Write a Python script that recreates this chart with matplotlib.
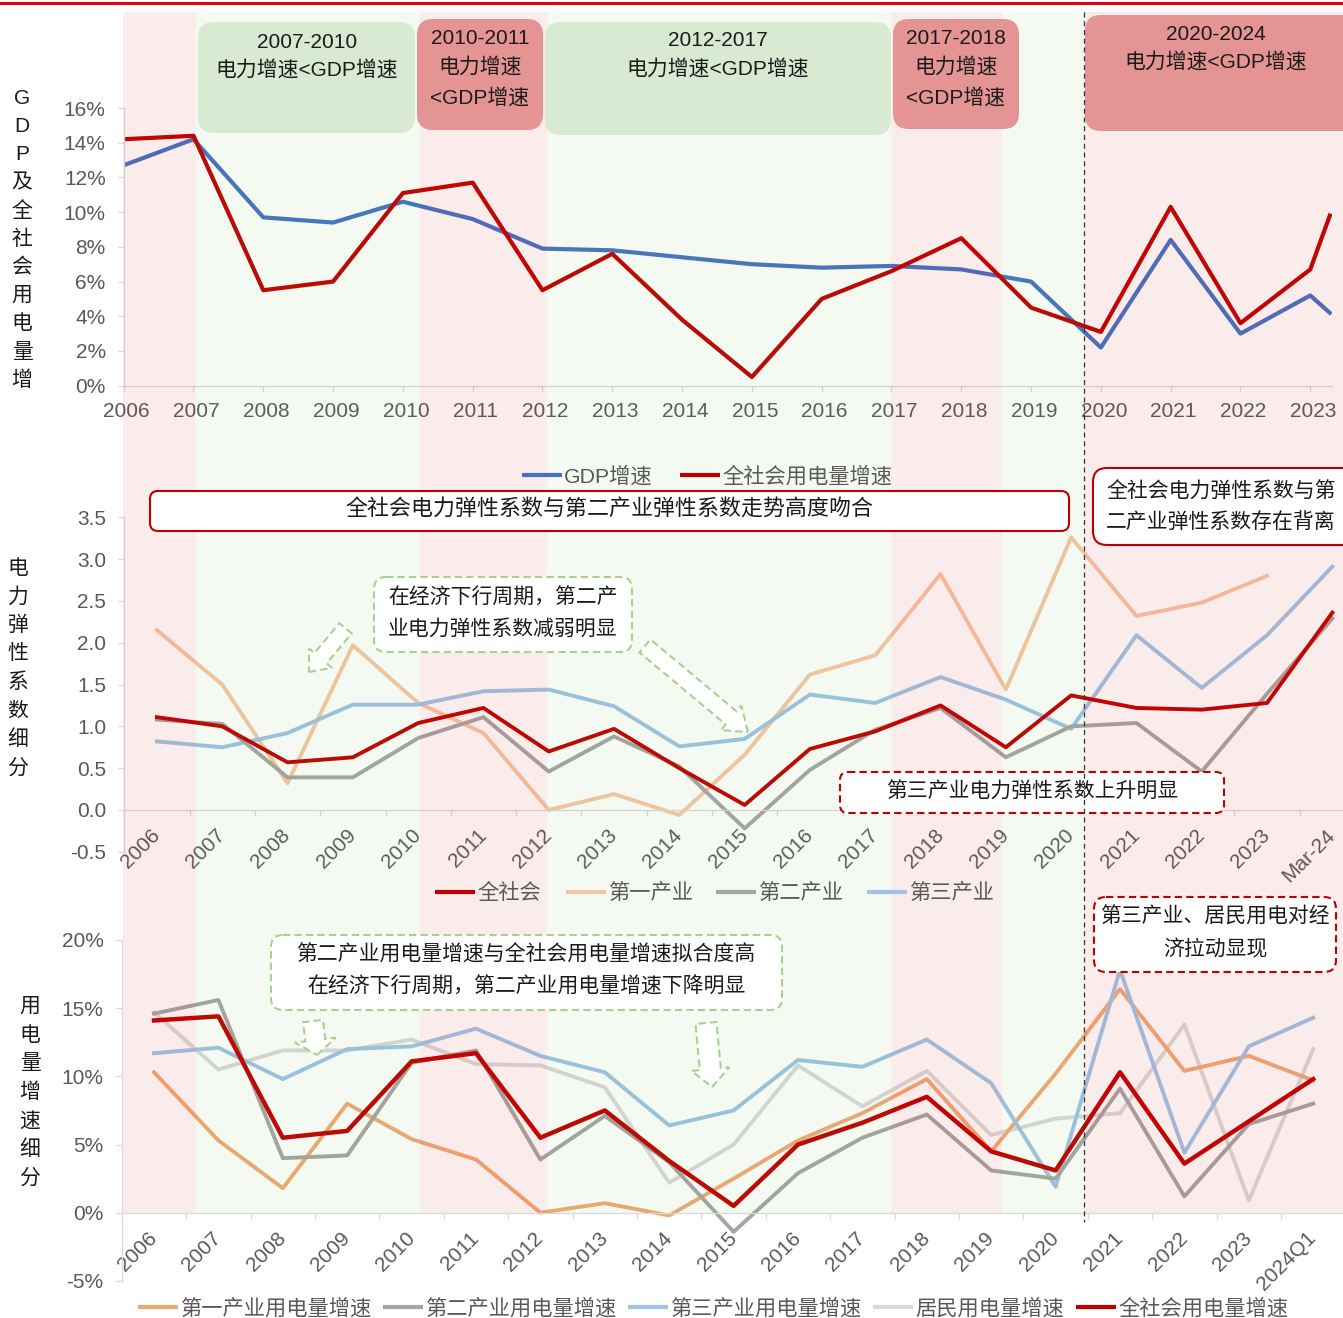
import numpy as np
import matplotlib
matplotlib.use('Agg')
import matplotlib.pyplot as plt
import matplotlib.transforms as mtransforms
from matplotlib.patches import Rectangle, FancyBboxPatch, FancyArrow
from matplotlib.lines import Line2D

plt.rcParams['font.family'] = ['Liberation Sans', 'Noto Sans CJK SC']
plt.rcParams['axes.unicode_minus'] = False

# ---- data ----
# GDP growth vs. total electricity consumption growth, %
top_years = list(range(2006, 2024)) + [2023.28]   # last point = 2024Q1
gdp_growth = [12.7, 14.2, 9.7, 9.4, 10.6, 9.6, 7.9, 7.8, 7.4, 7.0, 6.8, 6.9,
              6.7, 6.0, 2.2, 8.4, 3.0, 5.2, 4.2]
power_growth = [14.2, 14.4, 5.5, 6.0, 11.1, 11.7, 5.5, 7.6, 3.8, 0.5, 5.0, 6.6,
                8.5, 4.5, 3.1, 10.3, 3.6, 6.7, 9.8]

# electricity elasticity coefficients
elas_labels = [str(y) for y in range(2006, 2024)] + ['Mar-24']
elas_total = [1.11, 1.00, 0.57, 0.63, 1.04, 1.22, 0.70, 0.97, 0.50, 0.06, 0.73,
              0.94, 1.25, 0.75, 1.37, 1.22, 1.20, 1.28, 2.36]
elas_primary = [2.15, 1.50, 0.32, 1.97, 1.28, 0.92, 0.00, 0.19, -0.06, 0.66, 1.62,
                1.85, 2.82, 1.44, 3.26, 2.32, 2.48, 2.80, np.nan]
elas_secondary = [1.08, 1.03, 0.39, 0.39, 0.86, 1.11, 0.46, 0.88, 0.52, -0.22, 0.48,
                  0.96, 1.22, 0.63, 1.00, 1.04, 0.46, 1.39, 2.29]
elas_tertiary = [0.82, 0.75, 0.92, 1.26, 1.26, 1.42, 1.44, 1.24, 0.76, 0.85, 1.38,
                 1.28, 1.59, 1.32, 0.97, 2.09, 1.46, 2.09, 2.91]

# electricity consumption growth by sector, %
use_labels = [str(y) for y in range(2006, 2024)] + ['2024Q1']
use_primary = [10.3, 5.3, 1.8, 8.0, 5.4, 3.9, 0.0, 0.7, -0.2, 2.5, 5.3, 7.3,
               9.8, 4.5, 10.2, 16.4, 10.4, 11.5, 9.7]
use_secondary = [14.6, 15.6, 4.0, 4.2, 11.0, 11.9, 3.9, 7.1, 3.7, -1.4, 2.9, 5.5,
                 7.2, 3.1, 2.5, 9.1, 1.2, 6.5, 8.0]
use_tertiary = [11.7, 12.1, 9.8, 12.0, 12.2, 13.5, 11.5, 10.3, 6.4, 7.5, 11.2, 10.7,
                12.7, 9.5, 1.9, 17.8, 4.4, 12.2, 14.3]
use_resident = [14.7, 10.5, 11.9, 11.9, 12.7, 10.9, 10.8, 9.2, 2.2, 5.0, 10.8, 7.8,
                10.4, 5.7, 6.9, 7.3, 13.8, 0.9, 12.0]
use_total = [14.1, 14.4, 5.5, 6.0, 11.1, 11.7, 5.5, 7.5, 3.8, 0.5, 5.0, 6.6,
             8.5, 4.5, 3.1, 10.3, 3.6, 6.7, 9.8]

# ---- colours ----
RED = '#C00000'
BLUE = '#4472C4'
LBLUE = '#9DC3E6'
GRAY = '#A5A5A5'
LGRAY = '#D9D9D9'
PEACH_L = '#F6C6A4'
PEACH = '#F2A875'
AXIS_C = '#D9D9D9'
TICK_C = '#595959'
TXT_C = '#1a1a1a'
GREEN_BOX = '#D9EAD3'
PINK_BOX = '#E59494'
GREEN_DASH = '#A9D18E'

W, H = 1343, 1318
fig = plt.figure(figsize=(W / 100, H / 100), dpi=100)
# pixel coordinates, origin top-left
px = mtransforms.Affine2D().scale(1 / W, -1 / H).translate(0, 1) + fig.transFigure


def px_axes(left, top, right, bottom):
    return fig.add_axes([left / W, 1 - bottom / H, (right - left) / W, (bottom - top) / H])


def style(ax):
    ax.set_facecolor('none')
    ax.spines[['top', 'right']].set_visible(False)
    ax.spines[['left', 'bottom']].set_color(AXIS_C)
    ax.spines[['left', 'bottom']].set_linewidth(0.9)
    ax.tick_params(which='both', color=AXIS_C, labelcolor=TICK_C, labelsize=15,
                   width=0.9, length=4)
    ax.tick_params(axis='y', pad=9)


def category_xaxis(ax, labels, pad):
    n = len(labels)
    ax.set_xlim(-0.5, n - 0.5)
    ax.set_xticks(np.arange(-0.5, n, 1))
    ax.set_xticklabels([])
    ax.set_xticks(np.arange(n), labels=labels, minor=True)
    ax.tick_params(axis='x', which='minor', length=0, pad=pad, labelrotation=45)
    for lab in ax.get_xticklabels(minor=True):
        lab.set_ha('right')
        lab.set_va('center')
        lab.set_rotation_mode('anchor')


def vertical_label(chars, x, y0, step):
    for i, ch in enumerate(chars):
        fig.text(x, y0 + i * step, ch, transform=px, ha='center', va='center',
                 fontsize=15, color=TXT_C)


def box(x0, y0, x1, y1, fc, ec='none', ls='-', lw=1.5, r=12):
    fig.add_artist(FancyBboxPatch((x0, y0), x1 - x0, y1 - y0,
                                  boxstyle=f'round,pad=0,rounding_size={r}',
                                  transform=px, fc=fc, ec=ec, lw=lw, ls=ls, zorder=3))


def lines_text(x, ys, lines, ha='center', size=15):
    for y, s in zip(ys, lines):
        fig.text(x, y + 2, s, transform=px, ha=ha, va='center', fontsize=size,
                 color=TXT_C, zorder=4)


def arrow(x0, y0, x1, y1, width, head_w, head_l):
    fig.add_artist(FancyArrow(x0, y0, x1 - x0, y1 - y0, width=width,
                              head_width=head_w, head_length=head_l,
                              length_includes_head=True, transform=px,
                              fc='white', ec=GREEN_DASH, lw=1.5, ls=(0, (3.5, 2)),
                              zorder=3))


def legend_row(items, y):
    for x0, color, label in items:
        fig.add_artist(Line2D([x0, x0 + 40], [y, y], transform=px, color=color,
                              lw=3, solid_capstyle='butt', zorder=4))
        fig.text(x0 + 42, y + 1, label, transform=px, ha='left', va='center',
                 fontsize=15.3, color=TICK_C, zorder=4)


# ---- top panel: GDP vs power ----
ax1 = px_axes(123.7, 108, 1331.9, 385.7)
style(ax1)
ax1.plot(top_years, gdp_growth, color=BLUE, lw=3)
ax1.plot(top_years, power_growth, color=RED, lw=3)
ax1.set_xlim(2006, 2023.31)
ax1.set_ylim(0, 16)
ax1.set_xticks(range(2006, 2024))
ax1.set_xticklabels([str(y) for y in range(2006, 2024)])
ax1.tick_params(axis='x', pad=8)
shift = mtransforms.ScaledTranslation(3 / 100, 0, fig.dpi_scale_trans)
for lab in ax1.get_xticklabels():
    lab.set_transform(lab.get_transform() + shift)
ax1.set_yticks(range(0, 17, 2))
ax1.set_yticklabels([f'{v}%' for v in range(0, 17, 2)])

# ---- middle panel: elasticity ----
ax2 = px_axes(124.3, 517.3, 1365.0, 851.8)
style(ax2)
ax2.plot(elas_primary, color=PEACH_L, lw=2.8)
ax2.plot(elas_tertiary, color=LBLUE, lw=2.8)
ax2.plot(elas_secondary, color=GRAY, lw=2.8)
ax2.plot(elas_total, color=RED, lw=2.8)
ax2.set_ylim(-0.5, 3.5)
ax2.spines['bottom'].set_position(('data', 0))
category_xaxis(ax2, elas_labels, pad=16)
ax2.set_yticks(np.arange(-0.5, 3.6, 0.5))
ax2.set_yticklabels([f'{v:.1f}' for v in np.arange(-0.5, 3.6, 0.5)])

# ---- bottom panel: consumption growth by sector ----
ax3 = px_axes(121.8, 940.0, 1345.4, 1280.9)
style(ax3)
ax3.plot(use_resident, color=LGRAY, lw=2.8)
ax3.plot(use_primary, color=PEACH, lw=2.8)
ax3.plot(use_tertiary, color=LBLUE, lw=2.8)
ax3.plot(use_secondary, color=GRAY, lw=2.8)
ax3.plot(use_total, color=RED, lw=3.2)
ax3.set_ylim(-5, 20)
ax3.spines['bottom'].set_position(('data', 0))
category_xaxis(ax3, use_labels, pad=16)
ax3.set_yticks(range(-5, 21, 5))
ax3.set_yticklabels([f'{v}%' for v in range(-5, 21, 5)])

# ---- period shading laid over the plots ----
band_edges = [123, 196, 420, 547, 891, 1002, 1084.4, 1343]
band_kind = ['pink', 'green', 'pink', 'green', 'pink', 'green', 'pink']
band_rgba = {'pink': (0.86, 0.2, 0.2, 0.09), 'green': (0.44, 0.68, 0.28, 0.07)}
for (a, b), kind in zip(zip(band_edges[:-1], band_edges[1:]), band_kind):
    fig.add_artist(Rectangle((a, 12), b - a, 1213 - 12, transform=px,
                             fc=band_rgba[kind], ec='none', zorder=0.5))

# red rule at the very top
fig.add_artist(Rectangle((0, 1.7), W, 3, transform=px, fc='#E60012', ec='none', zorder=5))
# 2020 divider
fig.add_artist(Line2D([1084.4, 1084.4], [12, 1222], transform=px, color='#333333',
                      lw=0.9, ls=(0, (4, 3)), zorder=5))

# ---- period boxes above the top panel ----
box(198, 22, 415, 133, GREEN_BOX, r=16)
lines_text(307, [40, 68], ['2007-2010', '电力增速<GDP增速'])
box(417, 19, 543, 130, PINK_BOX, r=16)
lines_text(480, [37, 65, 96], ['2010-2011', '电力增速', '<GDP增速'])
box(545, 22, 891, 135, GREEN_BOX, r=16)
lines_text(718, [38, 67], ['2012-2017', '电力增速<GDP增速'])
box(893, 19, 1019, 129, PINK_BOX, r=16)
lines_text(956, [37, 65, 96], ['2017-2018', '电力增速', '<GDP增速'])
box(1085, 15, 1370, 131, PINK_BOX, r=16)
lines_text(1216, [32, 60], ['2020-2024', '电力增速<GDP增速'])

# ---- middle panel notes ----
box(150, 491, 1069, 531, 'white', ec=RED, lw=1.5, r=8)
lines_text(609, [508], ['全社会电力弹性系数与第二产业弹性系数走势高度吻合'], size=15.8)
box(1093, 468, 1380, 545, 'white', ec=RED, lw=1.5, r=14)
lines_text(1106, [490, 520], ['全社会电力弹性系数与第', '二产业弹性系数存在背离'], ha='left')
box(374, 577, 632, 652, 'white', ec=GREEN_DASH, ls=(0, (3.5, 2)), r=12)
lines_text(503, [596, 627], ['在经济下行周期，第二产', '业电力弹性系数减弱明显'])
box(840, 772, 1224, 813, 'white', ec=RED, ls=(0, (3.5, 2)), r=8)
lines_text(1032, [790], ['第三产业电力弹性系数上升明显'])
arrow(345.5, 628.3, 309, 672, 16, 30, 18)
arrow(645, 646, 748, 732, 17, 32, 22)

# ---- bottom panel notes ----
box(271, 935, 782, 1010, 'white', ec=GREEN_DASH, ls=(0, (3.5, 2)), r=12)
lines_text(526, [953, 985], ['第二产业用电量增速与全社会用电量增速拟合度高',
                             '在经济下行周期，第二产业用电量增速下降明显'])
box(1094, 897, 1336, 972, 'white', ec=RED, ls=(0, (3.5, 2)), r=12)
lines_text(1215, [915, 947], ['第三产业、居民用电对经', '济拉动显现'])
arrow(313, 1021, 317, 1055, 20, 41, 15)
arrow(706, 1023, 712, 1087, 21, 38, 18)

# ---- y-axis titles ----
vertical_label('GDP及全社会用电量增', 22, 98.3, 28.2)
vertical_label('电力弹性系数细分', 18, 568, 28.6)
vertical_label('用电量增速细分', 30, 1006.7, 28.55)

# ---- legends ----
legend_row([(522, BLUE, 'GDP增速'), (680, RED, '全社会用电量增速')], 475)
legend_row([(435, RED, '全社会'), (566, PEACH_L, '第一产业'),
            (716, GRAY, '第二产业'), (867, LBLUE, '第三产业')], 892)
legend_row([(138, PEACH, '第一产业用电量增速'), (383, GRAY, '第二产业用电量增速'),
            (628, LBLUE, '第三产业用电量增速'), (873, LGRAY, '居民用电量增速'),
            (1076, RED, '全社会用电量增速')], 1307)

fig.savefig('out.png', dpi=100)
